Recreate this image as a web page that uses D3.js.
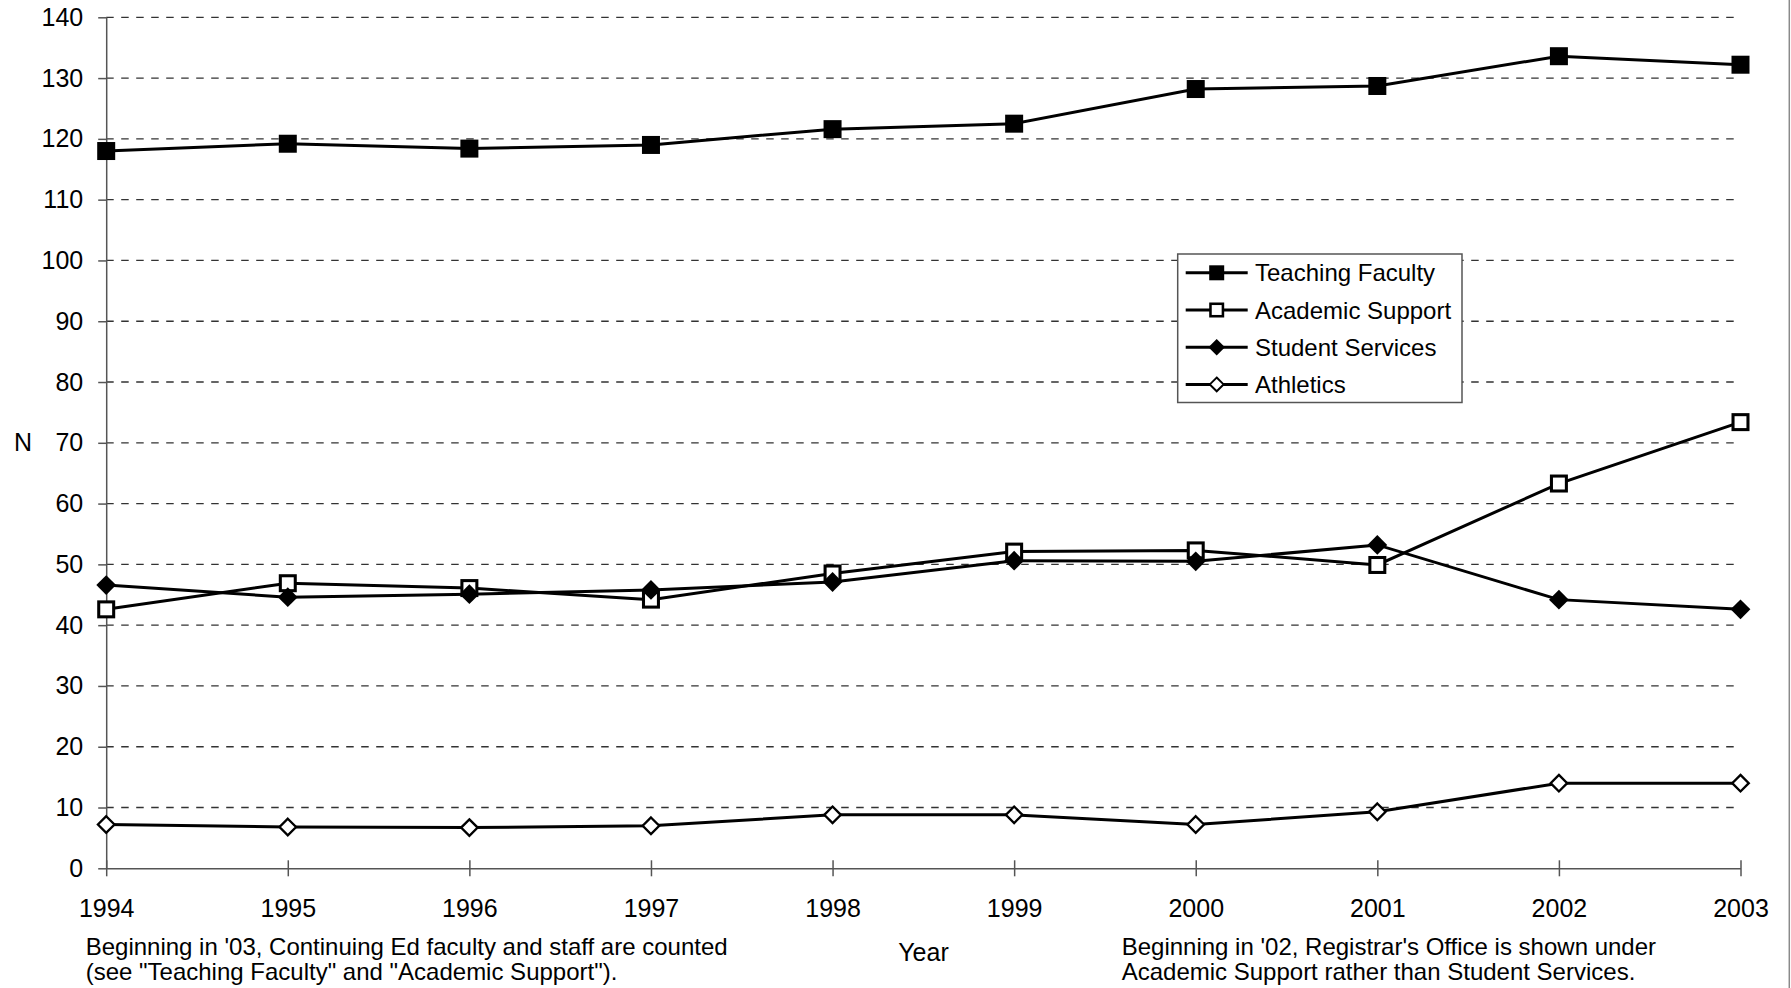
<!DOCTYPE html>
<html>
<head>
<meta charset="utf-8">
<script src="https://cdn.jsdelivr.net/npm/d3@7"></script>
<style>
  html, body { margin: 0; padding: 0; background: #fff; }
  svg { display: block; font-family: "Liberation Sans", Arial, Helvetica, sans-serif; }
</style>
</head>
<body>
<svg id="chart" width="1791" height="988"></svg>
<script>
// ---- Data ----
const years = [1994, 1995, 1996, 1997, 1998, 1999, 2000, 2001, 2002, 2003];
const teachingFaculty = [118.0, 119.2, 118.4, 119.0, 121.6, 122.5, 128.2, 128.7, 133.6, 132.2];
const academicSupport = [42.6, 46.9, 46.1, 44.2, 48.5, 52.1, 52.3, 49.9, 63.3, 73.4];
const studentServices = [46.6, 44.6, 45.1, 45.8, 47.1, 50.6, 50.5, 53.2, 44.2, 42.6];
const athletics = [7.2, 6.8, 6.7, 7.0, 8.8, 8.8, 7.2, 9.3, 14.0, 14.0];
const seriesNames = ["Teaching Faculty", "Academic Support", "Student Services", "Athletics"];
const yTicks = [0, 10, 20, 30, 40, 50, 60, 70, 80, 90, 100, 110, 120, 130, 140];
const yAxisTitle = "N";
const xAxisTitle = "Year";
const noteLeft = ["Beginning in '03, Continuing Ed faculty and staff are counted", "(see \"Teaching Faculty\" and \"Academic Support\")."];
const noteRight = ["Beginning in '02, Registrar's Office is shown under", "Academic Support rather than Student Services."];

const seriesValues = [teachingFaculty, academicSupport, studentServices, athletics];
const markerTypes = ["squareFilled", "squareOpen", "diamondFilled", "diamondOpen"];

// ---- Layout ----
const svg = d3.select("#chart");
const plotL = 106.2, plotR = 1740.5, plotT = 17.3, plotB = 868.3;
const x = d3.scaleLinear().domain([years[0], years[years.length - 1]]).range([plotL, plotR]);
const y = d3.scaleLinear().domain([0, 140]).range([plotB, plotT]);

// right border
svg.append("line").attr("x1", 1789.3).attr("x2", 1789.3).attr("y1", 0).attr("y2", 988)
  .attr("stroke", "#8a8a8a").attr("stroke-width", 1.5);

// gridlines
svg.append("g").selectAll("line").data(yTicks.filter(d => d > 0)).join("line")
  .attr("x1", plotL).attr("x2", plotR)
  .attr("y1", d => y(d)).attr("y2", d => y(d))
  .attr("stroke", "#333").attr("stroke-width", 1.3)
  .attr("stroke-dasharray", "7.5,7.5");

// y axis
const yAxis = svg.append("g").attr("transform", `translate(${plotL},0)`)
  .call(d3.axisLeft(y).tickValues(yTicks).tickSize(8).tickSizeOuter(0).tickPadding(15));
yAxis.select(".domain").attr("stroke", "#555").attr("stroke-width", 1.5);
yAxis.selectAll(".tick line").attr("stroke", "#555").attr("stroke-width", 1.5);
yAxis.selectAll(".tick text").attr("fill", "#000").style("font-size", "25px")
  .style("font-family", "'Liberation Sans', Arial, sans-serif");

// x axis
const xAxis = svg.append("g").attr("transform", `translate(0,${plotB})`)
  .call(d3.axisBottom(x).tickValues(years).tickFormat(d3.format("d")).tickSize(8).tickSizeOuter(0));
xAxis.select(".domain").attr("stroke", "#555").attr("stroke-width", 1.5);
xAxis.selectAll(".tick line").attr("stroke", "#555").attr("stroke-width", 1.5).attr("y1", -8).attr("y2", 8);
xAxis.selectAll(".tick text").attr("fill", "#000").attr("y", 48.5).attr("dy", 0)
  .style("font-size", "25px").style("font-family", "'Liberation Sans', Arial, sans-serif");

// axis titles
svg.append("text").attr("x", 23).attr("y", 442).attr("dy", "0.35em").attr("text-anchor", "middle")
  .style("font-size", "25px").text(yAxisTitle);
svg.append("text").attr("x", 923.5).attr("y", 961).attr("text-anchor", "middle")
  .style("font-size", "25px").text(xAxisTitle);

// notes
const nl = svg.append("text").style("font-size", "24px");
noteLeft.forEach((t, i) => nl.append("tspan").attr("x", 85.7).attr("y", 954.5 + i * 25.5).text(t));
const nr = svg.append("text").style("font-size", "24px");
noteRight.forEach((t, i) => nr.append("tspan").attr("x", 1121.7).attr("y", 954.5 + i * 25.5).text(t));

// marker drawing
function drawMarker(g, type, cx, cy, s) {
  if (type === "squareFilled") {
    g.append("rect").attr("x", cx - s / 2).attr("y", cy - s / 2).attr("width", s).attr("height", s).attr("fill", "#000");
  } else if (type === "squareOpen") {
    const sw = s * 0.17;
    g.append("rect").attr("x", cx - s / 2 + sw / 2).attr("y", cy - s / 2 + sw / 2)
      .attr("width", s - sw).attr("height", s - sw).attr("fill", "#fff").attr("stroke", "#000").attr("stroke-width", sw);
  } else if (type === "diamondFilled") {
    const h = s * 0.55;
    g.append("path").attr("d", `M${cx},${cy - h}L${cx + h},${cy}L${cx},${cy + h}L${cx - h},${cy}Z`).attr("fill", "#000");
  } else {
    const sw = s * 0.13;
    const h = s * 0.55 - sw * 0.7;
    g.append("path").attr("d", `M${cx},${cy - h}L${cx + h},${cy}L${cx},${cy + h}L${cx - h},${cy}Z`)
      .attr("fill", "#fff").attr("stroke", "#000").attr("stroke-width", sw).attr("stroke-linejoin", "miter");
  }
}

const line = d3.line().x((d, i) => x(years[i])).y(d => y(d));
seriesValues.forEach((vals, si) => {
  const g = svg.append("g");
  g.append("path").datum(vals).attr("d", line).attr("fill", "none").attr("stroke", "#000").attr("stroke-width", 3);
  vals.forEach((v, i) => drawMarker(g, markerTypes[si], x(years[i]), y(v), 18));
});

// legend
const lg = svg.append("g");
lg.append("rect").attr("x", 1177.7).attr("y", 254).attr("width", 284.3).attr("height", 148.5)
  .attr("fill", "#fff").attr("stroke", "#555").attr("stroke-width", 1.5);
seriesNames.forEach((name, i) => {
  const cy = 272.8 + i * 37.2;
  lg.append("line").attr("x1", 1185.7).attr("x2", 1247.7).attr("y1", cy).attr("y2", cy)
    .attr("stroke", "#000").attr("stroke-width", 3);
  drawMarker(lg, markerTypes[i], 1216.7, cy, 15);
  lg.append("text").attr("x", 1255).attr("y", cy).attr("dy", "0.36em").style("font-size", "24px").text(name);
});
</script>
</body>
</html>
